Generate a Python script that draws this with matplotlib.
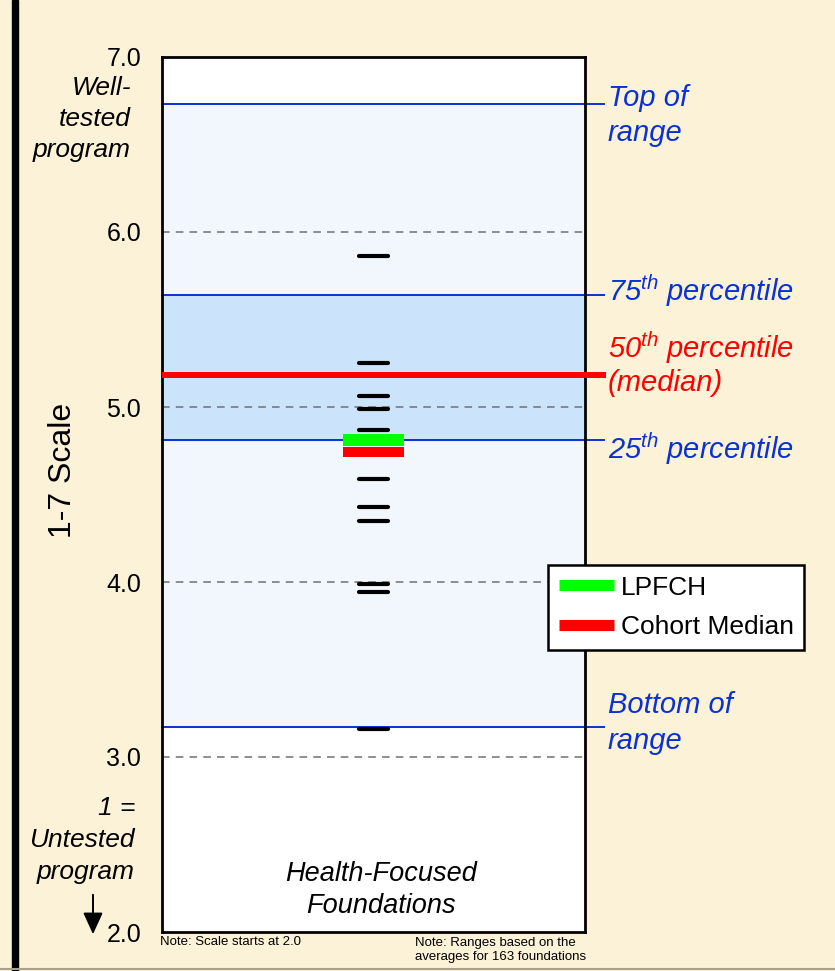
import matplotlib
matplotlib.use('Agg')
import matplotlib.pyplot as plt
from matplotlib.lines import Line2D

plt.rcParams['font.family'] = ['Liberation Sans', 'DejaVu Sans']
plt.rcParams['mathtext.fontset'] = 'custom'
plt.rcParams['mathtext.it'] = 'Liberation Sans:italic'
plt.rcParams['mathtext.rm'] = 'Liberation Sans:italic'

# --- DATA ---
foundation_scores = [5.86, 5.25, 5.06, 4.99, 4.87, 4.59, 4.43, 4.35, 3.99, 3.94, 3.16]
range_top = 6.73
pct_75 = 5.64
pct_50 = 5.18
pct_25 = 4.81
range_bottom = 3.17
lpfch_score = 4.81
cohort_median = 4.74
ytick_vals = [2.0, 3.0, 4.0, 5.0, 6.0, 7.0]
grid_vals = [3.0, 4.0, 5.0, 6.0]

# --- COLOURS ---
CREAM = '#FCF2D7'
BLUE = '#0A32D2'
BAND_LIGHT = '#F2F7FE'
BAND_MID = '#CCE4FB'

W, H = 835, 971
fig = plt.figure(figsize=(W / 100, H / 100), dpi=100, facecolor=CREAM)

def fx(px):
    return px / W

def fy(py):
    return 1 - py / H

ax = fig.add_axes([fx(162), fy(932), fx(585) - fx(162), fy(57) - fy(932)])
ax.set_xlim(0, 1)
ax.set_ylim(2, 7)
ax.set_facecolor('white')

# shaded ranges
ax.axhspan(range_bottom, range_top, color=BAND_LIGHT, zorder=0)
ax.axhspan(pct_25, pct_75, color=BAND_MID, zorder=0)

# dashed grid
for v in grid_vals:
    ax.axhline(v, color='#707070', lw=1.1, ls=(0, (5, 4)), zorder=1)

# percentile lines run out past the frame to their labels
for v in [range_top, pct_75, pct_25, range_bottom]:
    ax.plot([0, 1.045], [v, v], color=BLUE, lw=1.4, clip_on=False, zorder=2)
ax.plot([0, 1.05], [pct_50, pct_50], color='red', lw=4.3, clip_on=False, zorder=3,
        solid_capstyle='butt')

# individual foundation marks
for s in foundation_scores:
    ax.plot([0.465, 0.535], [s, s], color='black', lw=3, solid_capstyle='round', zorder=4)

# LPFCH and cohort median bars
ax.plot([0.428, 0.572], [cohort_median, cohort_median], color='red', lw=7.2,
        solid_capstyle='butt', zorder=5)
ax.plot([0.428, 0.572], [lpfch_score, lpfch_score], color='#00FF00', lw=8.6,
        solid_capstyle='butt', zorder=6)

ax.set_yticks(ytick_vals)
ax.set_yticklabels([f'{v:.1f}' for v in ytick_vals], fontsize=18)
ax.tick_params(axis='y', length=0, pad=15)
ax.set_xticks([])
for sp in ax.spines.values():
    sp.set_linewidth(2)
    sp.set_color('black')

for txt, y in zip(['Health-Focused', 'Foundations'], [874, 906]):
    fig.text(fx(381), fy(y), txt, fontsize=19.5, style='italic', ha='center', va='center')

# legend
handles = [Line2D([], [], color='#00FF00', lw=8, solid_capstyle='butt'),
           Line2D([], [], color='red', lw=8, solid_capstyle='butt')]
leg = fig.legend(handles, ['LPFCH', 'Cohort Median'], loc='upper left',
                 bbox_to_anchor=(fx(548), fy(565)), bbox_transform=fig.transFigure,
                 borderaxespad=0, fontsize=19, fancybox=False, framealpha=1,
                 edgecolor='black', handlelength=2.1, handletextpad=0.25,
                 labelspacing=0.6, borderpad=0.4)
leg.get_frame().set_linewidth(1.8)

# right-hand labels
def right_label(lines, ys, color):
    for txt, y in zip(lines, ys):
        fig.text(fx(608), fy(y), txt, color=color, fontsize=21, style='italic',
                 ha='left', va='center')

right_label(['Top of', 'range'], [98, 133], BLUE)
right_label([r'75$^{th}$ percentile'], [291], BLUE)
right_label([r'50$^{th}$ percentile', '(median)'], [348, 383], 'red')
right_label([r'25$^{th}$ percentile'], [449], BLUE)
right_label(['Bottom of', 'range'], [705, 741], BLUE)

# left-hand labels
for txt, y in zip(['Well-', 'tested', 'program'], [88, 119, 150]):
    fig.text(fx(131), fy(y), txt, fontsize=19, style='italic', ha='right', va='center')
for txt, y in zip(['1 =', 'Untested', 'program'], [808, 840, 872]):
    fig.text(fx(135), fy(y), txt, fontsize=19, style='italic', ha='right', va='center')

fig.text(fx(63), fy(470), '1-7 Scale', fontsize=23, rotation=90, ha='center', va='center')

fig.add_artist(matplotlib.patches.FancyArrowPatch(
    (fx(93), fy(892)), (fx(93), fy(937)), transform=fig.transFigure,
    arrowstyle='-|>,head_length=1.1,head_width=0.5', mutation_scale=12,
    color='black', lw=1.4))

# notes
fig.text(fx(160), fy(942), 'Note: Scale starts at 2.0', fontsize=9.5, ha='left', va='center')
fig.text(fx(415), fy(950), 'Note: Ranges based on the\naverages for 163 foundations',
         fontsize=9.5, ha='left', va='center', linespacing=1.2)

# frame decorations: black bar at left, grey rule at bottom
fig.add_artist(matplotlib.patches.Rectangle((fx(12), 0), fx(6), 1, transform=fig.transFigure,
                                            color='black'))
fig.add_artist(Line2D([0, 1], [fy(969), fy(969)], transform=fig.transFigure,
                      color='#A8A08C', lw=1.5))

fig.savefig('out.png', dpi=100, facecolor=CREAM)
